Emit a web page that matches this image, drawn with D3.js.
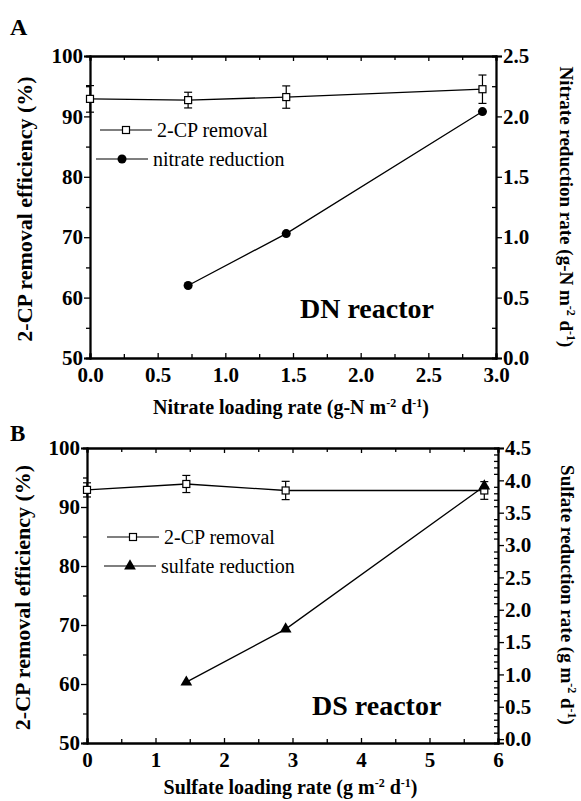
<!DOCTYPE html>
<html>
<head>
<meta charset="utf-8">
<script src="https://cdn.jsdelivr.net/npm/d3@7"></script>
<style>
  body { margin: 0; background: #fff; }
  svg { font-family: "Liberation Serif", "Times New Roman", serif; }
</style>
</head>
<body>
<div id="chart"></div>
<script>
// panel A data (DN reactor)
var nitrateLoad = [0, 0.725, 1.45, 2.9];
var removalA = [92.9, 92.7, 93.2, 94.5];
var removalAErr = [2.2, 1.3, 1.85, 2.35];
var nitrateRedX = [0.725, 1.45, 2.9];
var nitrateRed = [0.60, 1.03, 2.04];

// panel B data (DS reactor)
var sulfateLoad = [0, 1.45, 2.9, 5.8];
var removalB = [92.9, 93.9, 92.8, 92.8];
var removalBErr = [1.2, 1.45, 1.55, 1.5];
var sulfateRedX = [1.45, 2.9, 5.8];
var sulfateRed = [0.88, 1.70, 3.91];

// tick values
var xTicksA = [0, 0.5, 1.0, 1.5, 2.0, 2.5, 3.0];
var xTicksB = [0, 1, 2, 3, 4, 5, 6];
var leftTicks = [50, 60, 70, 80, 90, 100];
var rightTicksA = [0, 0.5, 1.0, 1.5, 2.0, 2.5];
var rightTicksB = [0, 0.5, 1.0, 1.5, 2.0, 2.5, 3.0, 3.5, 4.0, 4.5];

var svg = d3.select("#chart").append("svg")
  .attr("width", 581)
  .attr("height", 801);

function drawPanel(p) {
  var x = d3.scaleLinear().domain(p.xDomain).range([p.left, p.right]);
  var yL = d3.scaleLinear().domain([50, 100]).range([p.bottom, p.top]);
  var yR = d3.scaleLinear().domain(p.rDomain).range([p.bottom, p.top]);

  var g = svg.append("g");

  // axes with Origin-like tick directions
  g.append("g").attr("transform", `translate(0,${p.bottom})`)
    .call(d3.axisBottom(x).tickValues(p.xMinor).tickSize(-4).tickFormat(""));
  g.append("g").attr("transform", `translate(0,${p.bottom})`)
    .call(d3.axisBottom(x).tickValues(p.xTicks).tickSize(-5).tickPadding(9).tickFormat(p.xFmt))
    .selectAll("text").attr("dy", "0.71em").attr("class", "tl");
  g.append("g").attr("transform", `translate(0,${p.top})`)
    .call(d3.axisTop(x).tickValues(p.xMinor).tickSize(-4).tickFormat(""));
  g.append("g").attr("transform", `translate(0,${p.top})`)
    .call(d3.axisTop(x).tickValues(p.xTicks).tickSize(-5).tickFormat(""));

  g.append("g").attr("transform", `translate(${p.left},0)`)
    .call(d3.axisLeft(yL).tickValues([55, 65, 75, 85, 95]).tickSize(4).tickFormat(""));
  g.append("g").attr("transform", `translate(${p.left},0)`)
    .call(d3.axisLeft(yL).tickValues(leftTicks).tickSize(6).tickPadding(1).tickFormat(d3.format("d")))
    .selectAll("text").attr("class", "tl");

  g.append("g").attr("transform", `translate(${p.right},0)`)
    .call(d3.axisRight(yR).tickValues(p.rMinor).tickSize(-4).tickFormat(""));
  g.append("g").attr("transform", `translate(${p.right},0)`)
    .call(d3.axisRight(yR).tickValues(p.rTicks).tickSize(6).tickPadding(1).tickFormat(d3.format(".1f")))
    .selectAll("text").attr("class", "tl");

  g.selectAll(".domain").attr("stroke", "#000").attr("stroke-width", 1.8);
  g.selectAll(".tick line").attr("stroke", "#000").attr("stroke-width", 1.3);
  g.selectAll(".tl")
    .attr("font-size", 21).attr("font-weight", "bold").attr("fill", "#000")
    .attr("font-family", "Liberation Serif, serif");

  // 2-CP removal line
  var rem = p.remX.map((d, i) => [d, p.rem[i], p.remErr[i]]);
  g.append("path").datum(rem)
    .attr("fill", "none").attr("stroke", "#000").attr("stroke-width", 1.3)
    .attr("d", d3.line().x(d => x(d[0])).y(d => yL(d[1])));

  // error bars
  var eb = g.selectAll(".eb").data(rem).enter().append("g")
    .attr("stroke", "#000").attr("stroke-width", 1.2);
  eb.append("line")
    .attr("x1", d => x(d[0])).attr("x2", d => x(d[0]))
    .attr("y1", d => yL(d[1] - d[2])).attr("y2", d => yL(d[1] + d[2]));
  eb.append("line")
    .attr("x1", d => x(d[0]) - 4).attr("x2", d => x(d[0]) + 4)
    .attr("y1", d => yL(d[1] - d[2])).attr("y2", d => yL(d[1] - d[2]));
  eb.append("line")
    .attr("x1", d => x(d[0]) - 4).attr("x2", d => x(d[0]) + 4)
    .attr("y1", d => yL(d[1] + d[2])).attr("y2", d => yL(d[1] + d[2]));

  g.selectAll(".sq").data(rem).enter().append("rect")
    .attr("x", d => x(d[0]) - 3.5).attr("y", d => yL(d[1]) - 3.5)
    .attr("width", 7).attr("height", 7)
    .attr("fill", "#fff").attr("stroke", "#000").attr("stroke-width", 1.2);

  // reduction line on right axis
  var red = p.redX.map((d, i) => [d, p.red[i]]);
  g.append("path").datum(red)
    .attr("fill", "none").attr("stroke", "#000").attr("stroke-width", 1.3)
    .attr("d", d3.line().x(d => x(d[0])).y(d => yR(d[1])));
  g.selectAll(".mk").data(red).enter().append("path")
    .attr("transform", d => `translate(${x(d[0])},${yR(d[1])})`)
    .attr("d", d3.symbol().type(p.symbol).size(p.symSize))
    .attr("fill", "#000");

  // legend
  p.legend.forEach(function(l, i) {
    var lg = g.append("g").attr("transform", `translate(${l.x},${l.y})`);
    lg.append("line").attr("x1", 0).attr("x2", 52).attr("y1", 0).attr("y2", 0)
      .attr("stroke", "#000").attr("stroke-width", 1.2);
    if (i === 0) {
      lg.append("rect").attr("x", 22.5).attr("y", -3.5).attr("width", 7).attr("height", 7)
        .attr("fill", "#fff").attr("stroke", "#000").attr("stroke-width", 1.2);
    } else {
      lg.append("path").attr("transform", "translate(26,0)")
        .attr("d", d3.symbol().type(p.symbol).size(p.symSize)).attr("fill", "#000");
    }
    lg.append("text").attr("x", 57).attr("y", 0).attr("dy", "0.33em")
      .attr("font-size", 20).text(l.label);
  });

  // reactor label
  g.append("text").attr("x", p.tag.x).attr("y", p.tag.y)
    .attr("font-size", 28).attr("font-weight", "bold").text(p.tag.text);

  // panel letter
  svg.append("text").attr("x", p.letter.x).attr("y", p.letter.y)
    .attr("font-size", p.letter.size).attr("font-weight", "bold").text(p.letter.text);

  // axis titles
  var xt = g.append("text").attr("x", (p.left + p.right) / 2 - 2).attr("y", p.xTitleY)
    .attr("text-anchor", "middle").attr("font-size", 20).attr("font-weight", "bold");
  addUnits(xt, p.xTitle, p.xUnit);

  g.append("text")
    .attr("transform", `translate(${p.lTitleX},${(p.top + p.bottom) / 2 + 2}) rotate(-90)`)
    .attr("text-anchor", "middle").attr("font-size", 22).attr("font-weight", "bold")
    .text("2-CP removal efficiency (%)");

  var rt = g.append("text")
    .attr("transform", `translate(${p.rTitleX},${p.rTitleY}) rotate(90)`)
    .attr("text-anchor", "middle").attr("font-size", 19).attr("font-weight", "bold");
  addUnits(rt, p.rTitle, p.xUnit);
}

// "name (unit m-2 d-1)" with superscripts
function addUnits(t, name, unit) {
  t.append("tspan").text(name + " (" + unit + " m");
  t.append("tspan").attr("font-size", 12).attr("dy", -7).text("-2");
  t.append("tspan").attr("dy", 7).text(" d");
  t.append("tspan").attr("font-size", 12).attr("dy", -7).text("-1");
  t.append("tspan").attr("dy", 7).text(")");
}

drawPanel({
  left: 90, right: 496, top: 56, bottom: 358,
  xDomain: [0, 3], xTicks: xTicksA, xMinor: [0.25, 0.75, 1.25, 1.75, 2.25, 2.75],
  xFmt: d3.format(".1f"),
  rDomain: [0, 2.5], rTicks: rightTicksA, rMinor: [0.25, 0.75, 1.25, 1.75, 2.25],
  remX: nitrateLoad, rem: removalA, remErr: removalAErr,
  redX: nitrateRedX, red: nitrateRed,
  symbol: d3.symbolCircle, symSize: 64,
  legend: [
    { x: 100, y: 130, label: "2-CP removal" },
    { x: 96, y: 159, label: "nitrate reduction" }
  ],
  tag: { x: 300, y: 318, text: "DN reactor" },
  letter: { x: 10, y: 35, text: "A", size: 24 },
  xTitle: "Nitrate loading rate", xUnit: "g-N", xTitleY: 414,
  lTitleX: 32,
  rTitle: "Nitrate reduction rate", rTitleX: 560, rTitleY: 207
});

drawPanel({
  left: 87, right: 498, top: 448, bottom: 743,
  xDomain: [0, 6], xTicks: xTicksB, xMinor: [0.5, 1.5, 2.5, 3.5, 4.5, 5.5],
  xFmt: d3.format("d"),
  rDomain: [-0.06, 4.5], rTicks: rightTicksB,
  rMinor: d3.range(1, 45).filter(d => d % 5 !== 0).map(d => d / 10),
  remX: sulfateLoad, rem: removalB, remErr: removalBErr,
  redX: sulfateRedX, red: sulfateRed,
  symbol: d3.symbolTriangle, symSize: 60,
  legend: [
    { x: 107, y: 537, label: "2-CP removal" },
    { x: 104, y: 566, label: "sulfate reduction" }
  ],
  tag: { x: 312, y: 715, text: "DS reactor" },
  letter: { x: 10, y: 441, text: "B", size: 23 },
  xTitle: "Sulfate loading rate", xUnit: "g", xTitleY: 794,
  lTitleX: 30,
  rTitle: "Sulfate reduction rate", rTitleX: 561, rTitleY: 595
});
</script>
</body>
</html>
